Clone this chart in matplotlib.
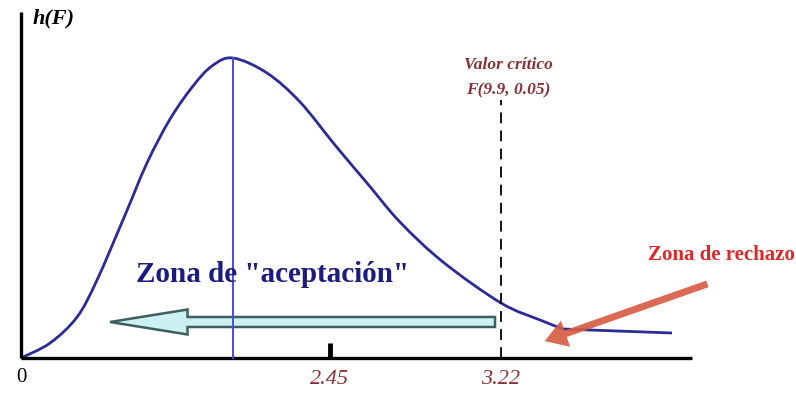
import matplotlib.pyplot as plt
import matplotlib.patches as mpatches
from matplotlib.path import Path

# curva h(F) (unidades arbitrarias)
curve_x = [0.0, 0.195, 0.376, 0.510, 0.698, 0.845, 1.000, 1.154, 1.281,
           1.422, 1.650, 1.872, 2.106, 2.321, 2.542, 2.831, 3.220, 3.482,
           3.636, 4.367]
curve_y = [0.0, 0.030, 0.082, 0.156, 0.286, 0.390, 0.478, 0.544, 0.584,
           0.600, 0.570, 0.512, 0.426, 0.350, 0.272, 0.192, 0.110, 0.076,
           0.058, 0.050]

moda = 1.422
x_critico = 3.22
x_tick = 2.07
tick_labels = ['0', '2.45', '3.22']
x_max = 4.50
y_max = 0.692

fig = plt.figure(figsize=(7.96, 3.96), dpi=100)
ax = fig.add_axes([0, 0, 1, 1])
ax.set_xlim(-0.141, 5.199)
ax.set_ylim(-0.076, 0.716)
ax.axis('off')

serif = 'Liberation Serif'

# ejes
ax.plot([0, 0], [0, y_max], color='black', lw=2.4, solid_capstyle='butt')
ax.plot([0, x_max], [0, 0], color='black', lw=2.4, solid_capstyle='butt')

# curva suave (Catmull-Rom -> Bezier) por los puntos leidos; la cola es recta
pts = list(zip(curve_x, curve_y))[:-1]
verts = [pts[0]]
codes = [Path.MOVETO]
for i in range(len(pts) - 1):
    p0 = pts[max(i - 1, 0)]
    p1 = pts[i]
    p2 = pts[i + 1]
    p3 = pts[min(i + 2, len(pts) - 1)]
    c1 = (p1[0] + (p2[0] - p0[0]) / 6, p1[1] + (p2[1] - p0[1]) / 6)
    c2 = (p2[0] - (p3[0] - p1[0]) / 6, p2[1] - (p3[1] - p1[1]) / 6)
    verts += [c1, c2, p2]
    codes += [Path.CURVE4] * 3
verts.append((curve_x[-1], curve_y[-1]))
codes.append(Path.LINETO)
ax.add_patch(mpatches.PathPatch(Path(verts, codes), fill=False,
                                edgecolor='#2b2b95', lw=2))
ax.plot([moda, moda], [0, max(curve_y)], color='#4a4ae6', lw=1.4)

# valor critico
ax.plot([x_critico, x_critico], [0, 0.516], color='black', lw=1.3,
        dashes=(6, 4))
ax.plot([x_tick, x_tick], [0, 0.03], color='black', lw=3.5,
        solid_capstyle='butt')

# flecha de la zona de aceptacion
flecha = mpatches.FancyArrow(3.18, 0.072, 0.597 - 3.18, 0, width=0.02,
                             head_width=0.05, head_length=0.52,
                             length_includes_head=True,
                             facecolor='#cdf1f2', edgecolor='#3d5f5f', lw=1.8)
ax.add_patch(flecha)

# flecha de la zona de rechazo
ax.annotate('', xy=(3.495, 0.032), xytext=(4.622, 0.15),
            arrowprops=dict(arrowstyle='simple,head_length=0.8,head_width=1.0,tail_width=0.25',
                            mutation_scale=20, color='#d65a40', alpha=0.9, lw=0))

# textos
ax.text(0.08, 0.68, 'h(F)', fontfamily=serif, fontweight='bold',
        fontstyle='italic', fontsize=16, va='center', ha='left')
ax.text(3.267, 0.586, 'Valor crítico', fontfamily=serif, fontweight='bold',
        fontstyle='italic', fontsize=12.5, color='#8a3035', ha='center', va='center')
ax.text(3.267, 0.536, 'F(9.9, 0.05)', fontfamily=serif, fontweight='bold',
        fontstyle='italic', fontsize=12.5, color='#8a3035', ha='center', va='center')
ax.text(1.69, 0.166, 'Zona de "aceptación"', fontfamily=serif, fontweight='bold',
        fontsize=21, color='#1c1c80', ha='center', va='center')
ax.text(4.70, 0.206, 'Zona de rechazo', fontfamily=serif, fontweight='bold',
        fontsize=15, color='#e02828', ha='center', va='center')

ax.text(0.0, -0.038, tick_labels[0], fontfamily=serif, fontsize=15,
        ha='center', va='center')
ax.text(x_tick, -0.044, tick_labels[1], fontfamily=serif, fontstyle='italic',
        fontsize=16, color='#8a3035', ha='center', va='center')
ax.text(x_critico, -0.044, tick_labels[2], fontfamily=serif, fontstyle='italic',
        fontsize=16, color='#8a3035', ha='center', va='center')

fig.savefig('out.png', dpi=100)
